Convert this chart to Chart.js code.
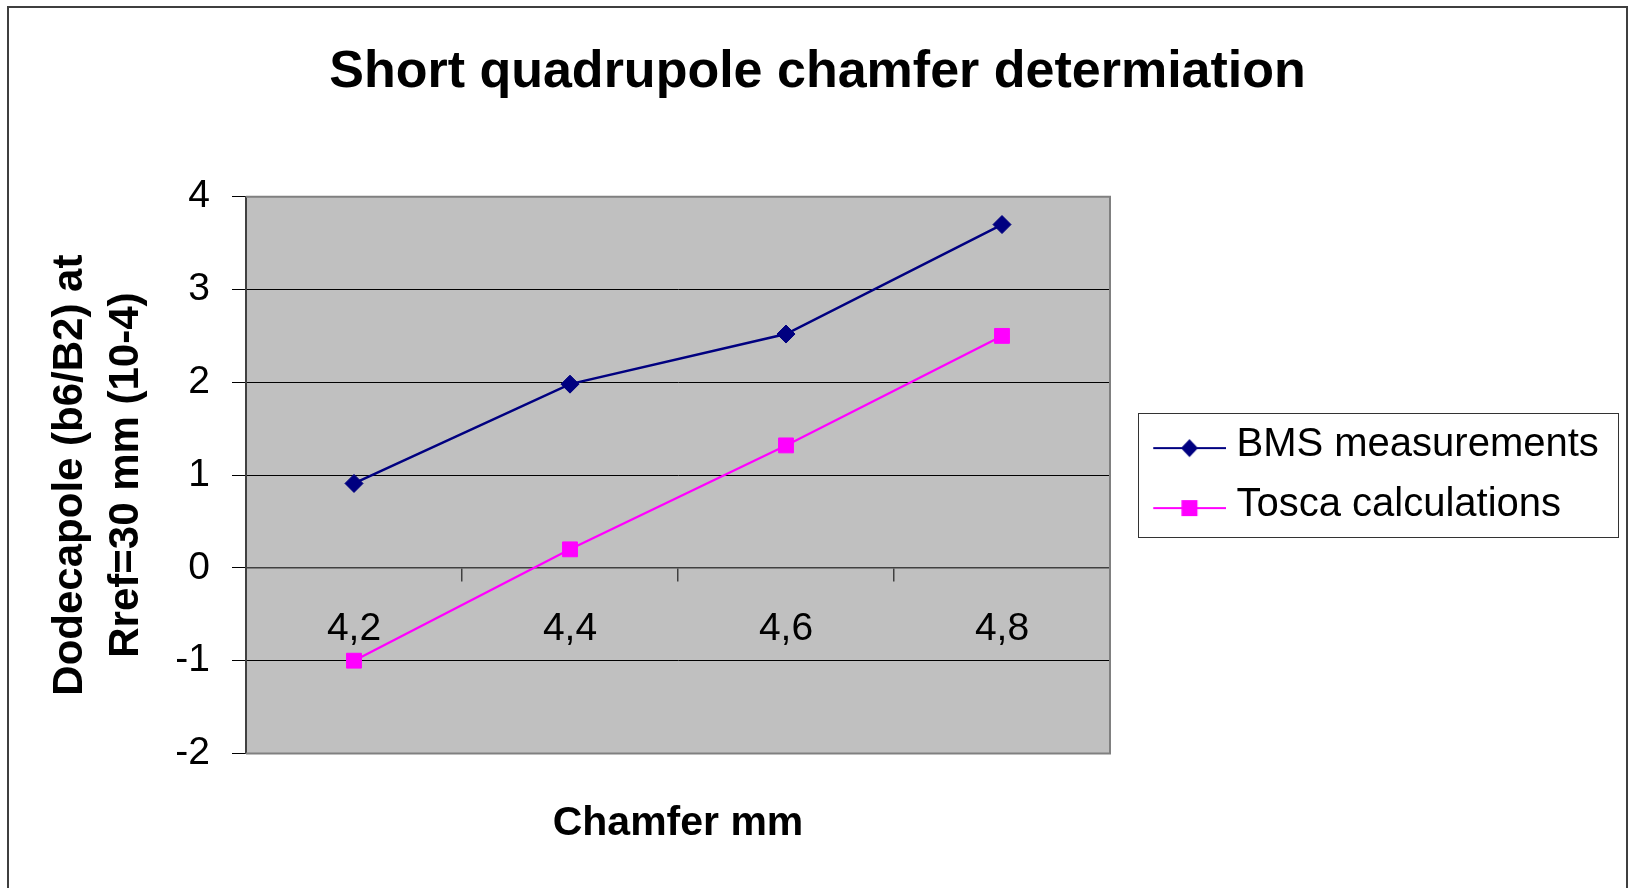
<!DOCTYPE html>
<html>
<head>
<meta charset="utf-8">
<title>Short quadrupole chamfer determiation</title>
<script src="https://cdn.jsdelivr.net/npm/chart.js@4.4.1/dist/chart.umd.min.js"></script>
<style>
  html, body { margin: 0; padding: 0; background: #ffffff; overflow: hidden; }
  #wrap { width: 1629px; height: 888px; position: relative; }
  canvas { display: block; }
</style>
</head>
<body>
<div id="wrap"><canvas id="chart" width="1629" height="888"></canvas></div>
<script>
// ---- data ----
const chamferLabels = ['4,2', '4,4', '4,6', '4,8'];
const bmsMeasurements = [0.91, 1.98, 2.52, 3.70];
const toscaCalculations = [-1.00, 0.20, 1.32, 2.50];
const valueTicks = [-2, -1, 0, 1, 2, 3, 4];
const seriesNames = ['BMS measurements', 'Tosca calculations'];

// ---- styling ----
const FAMILY = "'Liberation Sans', Arial, Helvetica, sans-serif";
const NAVY = '#000080';
const MAGENTA = '#FF00FF';
const LEGEND_WIDTH = 519;

Chart.defaults.font.family = FAMILY;
Chart.defaults.color = '#000000';

// Legend sample: a short line with the series marker on it
function legendIcon(color, shape) {
  const c = document.createElement('canvas');
  c.width = 106; c.height = 30;
  const g = c.getContext('2d');
  const cy = 18, cx = 69.25;
  g.strokeStyle = color; g.lineWidth = 2;
  g.beginPath(); g.moveTo(33, cy); g.lineTo(106, cy); g.stroke();
  g.fillStyle = color;
  if (shape === 'diamond') {
    g.beginPath();
    g.moveTo(cx, cy - 9); g.lineTo(cx + 8.5, cy); g.lineTo(cx, cy + 9); g.lineTo(cx - 8.5, cy);
    g.closePath(); g.fill();
  } else {
    g.fillRect(cx - 8, cy - 8, 16, 16);
  }
  return c;
}
const legendIcons = [legendIcon(NAVY, 'diamond'), legendIcon(MAGENTA, 'square')];

// Grey plot area, its frame, the boxed legend and the outer border
const chartDecor = {
  id: 'chartDecor',
  beforeLayout(chart) {
    const lg = chart.legend;
    if (lg && !lg.$fixedWidth) {
      const fit = lg.fit;
      lg.fit = function () { fit.call(this); this.width = LEGEND_WIDTH; };
      lg.$fixedWidth = true;
    }
  },
  beforeDraw(chart) {
    const { ctx, chartArea: a } = chart;
    ctx.save();
    ctx.fillStyle = '#ffffff';
    ctx.fillRect(0, 0, chart.width, chart.height);
    ctx.fillStyle = '#C0C0C0';
    ctx.fillRect(a.left, a.top, a.right - a.left, a.bottom - a.top);
    // legend frame
    const lg = chart.legend;
    const cy = (a.top + a.bottom) / 2;
    const lx = lg.left + 28, rx = lg.right - 11;
    ctx.fillStyle = '#ffffff';
    ctx.fillRect(lx, cy - 62, rx - lx, 124);
    ctx.strokeStyle = '#333333';
    ctx.lineWidth = 1;
    ctx.strokeRect(Math.round(lx) + 0.5, Math.round(cy - 62) + 0.5, Math.round(rx - lx), 124);
    ctx.restore();
  },
  beforeDatasetsDraw(chart) {
    const { ctx, chartArea: a } = chart;
    ctx.save();
    ctx.strokeStyle = '#808080';
    ctx.lineWidth = 2;
    ctx.beginPath();
    ctx.moveTo(a.left, a.top);
    ctx.lineTo(a.right, a.top);
    ctx.lineTo(a.right, a.bottom);
    ctx.lineTo(a.left, a.bottom);
    ctx.stroke();
    ctx.restore();
  },
  afterDraw(chart) {
    const { ctx } = chart;
    ctx.save();
    ctx.strokeStyle = '#3f3f3f';
    ctx.lineWidth = 2;
    ctx.strokeRect(8, 7, 1619, 900);
    ctx.restore();
  }
};

new Chart(document.getElementById('chart'), {
  type: 'line',
  data: {
    labels: chamferLabels,
    datasets: [
      {
        label: seriesNames[0],
        data: bmsMeasurements,
        borderColor: NAVY,
        backgroundColor: NAVY,
        borderWidth: 2.5,
        pointStyle: 'rectRot',
        pointRadius: 9,
        pointHoverRadius: 9,
        pointBorderWidth: 1,
        tension: 0,
        xAxisID: 'x',
        yAxisID: 'y'
      },
      {
        label: seriesNames[1],
        data: toscaCalculations,
        borderColor: MAGENTA,
        backgroundColor: MAGENTA,
        borderWidth: 2.25,
        pointStyle: 'rect',
        pointRadius: 10.5,
        pointHoverRadius: 10.5,
        pointBorderWidth: 1,
        tension: 0,
        xAxisID: 'x',
        yAxisID: 'y'
      }
    ]
  },
  options: {
    responsive: false,
    animation: false,
    devicePixelRatio: 1,
    layout: { padding: { left: 6, right: 0, top: 0, bottom: 0 } },
    plugins: {
      title: {
        display: true,
        text: 'Short quadrupole chamfer determiation',
        color: '#000000',
        font: { size: 52, weight: 'bold', lineHeight: 1.2 },
        padding: { top: 41, bottom: 93.3 }
      },
      legend: {
        display: true,
        position: 'right',
        fullSize: false,
        align: 'center',
        labels: {
          usePointStyle: true,
          pointStyleWidth: 86.5,
          padding: 20,
          color: '#000000',
          font: { size: 40 },
          generateLabels(chart) {
            return chart.data.datasets.map((ds, i) => ({
              text: ds.label,
              fillStyle: ds.borderColor,
              strokeStyle: ds.borderColor,
              lineWidth: 0,
              hidden: false,
              pointStyle: legendIcons[i],
              datasetIndex: i,
              fontColor: '#000000'
            }));
          }
        }
      },
      tooltip: { enabled: false }
    },
    scales: {
      y: {
        type: 'linear',
        axis: 'y',
        position: 'left',
        min: -2,
        max: 4,
        afterBuildTicks(scale) { scale.ticks = valueTicks.map(v => ({ value: v })); },
        afterFit(scale) { scale.width = 240; },
        grid: {
          color: c => (c.tick && c.tick.value === 0) ? '#404040' : '#000000',
          lineWidth: 1,
          tickColor: '#000000',
          tickLength: 14,
          drawTicks: true
        },
        border: { display: true, color: '#404040', width: 2 },
        ticks: { font: { size: 39 }, color: '#000000', padding: 22 },
        title: {
          display: true,
          text: ['Dodecapole (b6/B2) at', 'Rref=30 mm (10-4)'],
          color: '#000000',
          font: { size: 42, weight: 'bold', lineHeight: 1.333 },
          padding: { top: 36, bottom: 0 }
        }
      },
      x: {
        type: 'category',
        axis: 'x',
        position: { y: 0 },
        offset: true,
        grid: {
          offset: true,
          drawOnChartArea: false,
          drawTicks: true,
          tickLength: 13,
          color: '#404040',
          lineWidth: 1.5
        },
        border: { display: true, color: '#404040', width: 1.5 },
        ticks: { font: { size: 39 }, color: '#000000', padding: 25, maxRotation: 0, autoSkip: false }
      },
      xTitle: {
        type: 'category',
        axis: 'x',
        position: 'bottom',
        display: true,
        grid: { display: false, drawTicks: false },
        border: { display: false },
        ticks: { display: false },
        title: {
          display: true,
          text: 'Chamfer mm',
          color: '#000000',
          font: { size: 41, weight: 'bold', lineHeight: 1.2 },
          padding: { top: 45.4, bottom: 39.9 }
        }
      }
    }
  },
  plugins: [chartDecor]
});
</script>
</body>
</html>
